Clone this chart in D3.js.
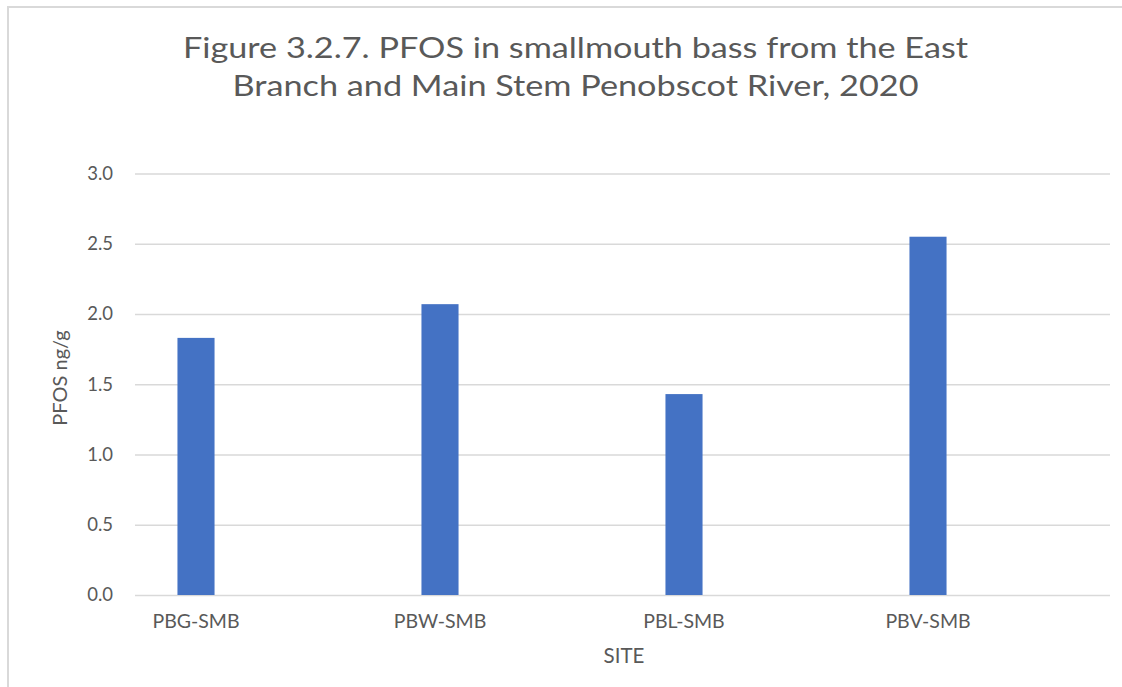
<!DOCTYPE html>
<html>
<head>
<meta charset="utf-8">
<script src="https://cdn.jsdelivr.net/npm/d3@7"></script>
<style>
  html, body { margin: 0; padding: 0; background: #fff; }
  svg { display: block; }
  text { font-family: Lato, "Open Sans", sans-serif; fill: #595959; }
</style>
</head>
<body>
<svg id="chart" width="1122" height="687"></svg>
<script>
const categories = ["PBG-SMB", "PBW-SMB", "PBL-SMB", "PBV-SMB"];
const values = [1.83, 2.07, 1.43, 2.55];
const yTicks = [0, 0.5, 1.0, 1.5, 2.0, 2.5, 3.0];
const titleLines = ["Figure 3.2.7. PFOS in smallmouth bass from the East", "Branch and Main Stem Penobscot River, 2020"];
const yLabel = "PFOS ng/g";
const xLabel = "SITE";

const svg = d3.select("#chart");
const W = 1122, H = 687;
const plot = { left: 135, right: 1111, top: 173.5, bottom: 595 };

// chart border (partially visible)
svg.append("path")
  .attr("d", `M8,${H} L8,7 L${W},7`)
  .attr("fill", "none").attr("stroke", "#d9d9d9").attr("stroke-width", 2);

const x = d3.scaleBand().domain(categories).range([plot.left, plot.right]);
const y = d3.scaleLinear().domain([0, 3]).range([plot.bottom, plot.top]);

// gridlines
const yAxis = d3.axisLeft(y).tickValues(yTicks).tickFormat(d3.format(".1f"))
  .tickSize(-(plot.right - plot.left - 1)).tickPadding(22);
const gy = svg.append("g").attr("transform", `translate(${plot.left},0)`).call(yAxis);
gy.select(".domain").remove();
gy.selectAll(".tick line").attr("stroke", "#d9d9d9").attr("stroke-width", 1.6);
gy.selectAll(".tick text").attr("font-size", 18.5).attr("fill", "#595959")
  .style("font-family", "Lato, 'Open Sans', sans-serif");

// bars
const barW = x.bandwidth() * 0.152;
const cx = d => x(d) + x.bandwidth() / 4;
svg.append("g").selectAll("rect").data(categories).join("rect")
  .attr("x", (d) => cx(d) - barW / 2)
  .attr("y", (d, i) => y(values[i]))
  .attr("width", barW)
  .attr("height", (d, i) => y(0) - y(values[i]))
  .attr("fill", "#4472C4");

// x category labels
svg.append("g").selectAll("text").data(categories).join("text")
  .attr("x", d => cx(d)).attr("y", 628)
  .attr("text-anchor", "middle").attr("font-size", 19.5)
  .text(d => d);

// axis titles
svg.append("text").attr("x", 624).attr("y", 663)
  .attr("text-anchor", "middle").attr("font-size", 20.5).text(xLabel);
svg.append("text").attr("transform", "translate(67,378) rotate(-90)")
  .attr("text-anchor", "middle").attr("font-size", 20).text(yLabel);

// title
const tWidths = [785, 686];
const tBase = [58, 96];
titleLines.forEach((t, i) => {
  svg.append("text").attr("x", 575.5).attr("y", tBase[i])
    .attr("text-anchor", "middle").attr("font-size", 28.5)
    .attr("textLength", tWidths[i]).attr("lengthAdjust", "spacingAndGlyphs")
    .text(t);
});
</script>
</body>
</html>
